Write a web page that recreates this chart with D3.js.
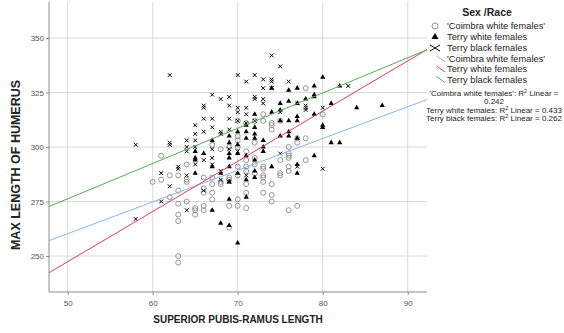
<!DOCTYPE html>
<html>
<head>
<meta charset="utf-8">
<script src="https://cdn.jsdelivr.net/npm/d3@7"></script>
<style>
  html, body { margin: 0; padding: 0; background: #fff; }
  svg { display: block; font-family: "Liberation Sans", Arial, sans-serif; }
</style>
</head>
<body>
<svg id="chart" width="564" height="333"></svg>
<script>
// Superior pubis-ramus length (x) vs. max length of humerus (y), by sex/race group
const seriesNames = ["'Coimbra white females'", "Terry white females", "Terry black females"];

const coimbraWhite = [
  [60,284],
  [61,296],[61,285],
  [62,287],[62,277],
  [63,287],[63,280],[63,274],[63,269],[63,266],[63,250],[63,247],
  [64,292],[64,285],[64,284],[64,275],
  [65,272],[65,271],[65,269],
  [66,286],[66,281],[66,279],[66,273],[66,271],
  [67,301],[67,286],[67,283],[67,279],[67,276],
  [68,299],[68,284],[68,283],
  [69,300],[69,286],[69,285],[69,273],[69,263],
  [70,312],[70,305],[70,303],[70,300],[70,291],[70,287],[70,276],[70,273],
  [71,311],[71,298],[71,294],[71,291],[71,289],[71,283],[71,279],[71,272],
  [72,312],[72,302],[72,295],[72,292],[72,288],
  [73,315],[73,312],[73,291],[73,290],[73,287],[73,286],[73,284],[73,279],
  [74,311],[74,310],[74,308],[74,283],[74,278],[74,275],
  [75,312],[75,294],[75,288],[75,287],
  [76,300],[76,297],[76,296],[76,295],[76,291],[76,289],[76,271],
  [77,304],[77,302],[77,273],
  [78,327],[78,304],[78,294],
  [80,315]
];

const terryWhite = [
  [65,298],[65,295],[65,294],[65,288],
  [66,297],
  [67,303],[67,291],[67,271],
  [68,288],[68,265],
  [69,305],[69,302],[69,297],[69,295],[69,291],[69,284],[69,276],[69,264],
  [70,307],[70,301],[70,297],[70,288],[70,256],
  [71,310],[71,307],[71,304],[71,296],[71,285],[71,277],
  [72,315],[72,309],[72,306],[72,304],[72,294],[72,289],[72,286],
  [73,303],[73,300],[73,298],
  [74,327],[74,316],[74,291],
  [75,320],[75,317],[75,312],[75,305],
  [76,326],[76,321],[76,312],[76,307],[76,305],
  [77,327],[77,320],[77,314],[77,312],[77,304],[77,292],[77,288],
  [78,322],
  [79,328],[79,324],[79,323],[79,315],[79,296],
  [80,332],[80,310],[80,309],
  [81,320],[81,302],
  [82,328],[82,302],
  [84,318],
  [87,319]
];

const terryBlack = [
  [58,301],[58,267],
  [61,288],[61,275],
  [62,333],[62,302],[62,301],[62,282],
  [63,291],[63,290],
  [64,303],[64,300],[64,298],[64,287],[64,271],
  [65,310],[65,306],[65,303],[65,300],[65,292],
  [66,319],[66,318],[66,313],[66,307],[66,294],[66,280],
  [67,324],[67,313],[67,309],[67,299],[67,295],[67,292],
  [68,322],[68,307],[68,306],[68,289],[68,285],
  [69,323],[69,319],[69,313],[69,308],[69,299],[69,284],
  [70,333],[70,318],[70,316],[70,312],[70,298],
  [71,330],[71,318],[71,315],[71,311],[71,287],
  [72,333],[72,323],[72,322],[72,312],
  [73,331],[73,327],[73,322],[73,320],
  [74,342],[74,331],[74,330],[74,327],
  [75,337],[75,316],[75,297],
  [76,330],
  [77,320],[77,291],
  [78,319],[78,318],[78,317],
  [80,318],[80,290],
  [83,328]
];

// Linear fit for each group: y = intercept + slope * x
const fitIntercept = [187.5, 132.3, 195.4];
const fitSlope = [1.455, 2.302, 1.617];
const rSquared = ["0.242", "0.433", "0.262"];

const xTicks = [50, 60, 70, 80, 90];
const yTicks = [250, 275, 300, 325, 350];

const fitColors = ["#8ab6ee", "#e23a62", "#5aaa5a"];

const svg = d3.select("#chart");

const plot = { left: 49, right: 427, top: 2, bottom: 292 };
const x = d3.scaleLinear().domain([47.8, 92.27]).range([plot.left, plot.right]);
const y = d3.scaleLinear().domain([233.5, 366.5]).range([plot.bottom, plot.top]);

// grid lines
const grid = svg.append("g");
grid.selectAll("line.gx").data(xTicks).join("line")
  .attr("x1", d => x(d)).attr("x2", d => x(d))
  .attr("y1", plot.top).attr("y2", plot.bottom)
  .attr("stroke", "#d9d9d9").attr("stroke-width", 1);
grid.selectAll("line.gy").data(yTicks).join("line")
  .attr("x1", plot.left).attr("x2", plot.right)
  .attr("y1", d => y(d)).attr("y2", d => y(d))
  .attr("stroke", "#d9d9d9").attr("stroke-width", 1);

// axes
const xAxis = d3.axisBottom(x).tickValues(xTicks).tickSize(3).tickPadding(5).tickSizeOuter(0);
const yAxis = d3.axisLeft(y).tickValues(yTicks).tickSize(3).tickPadding(2).tickSizeOuter(0);

const gx = svg.append("g").attr("transform", `translate(0,${plot.bottom})`).call(xAxis);
const gy = svg.append("g").attr("transform", `translate(${plot.left},0)`).call(yAxis);
[gx, gy].forEach(g => {
  g.select(".domain").attr("stroke", "#8c8c8c");
  g.selectAll(".tick line").attr("stroke", "#8c8c8c");
  g.selectAll(".tick text").attr("fill", "#555").attr("font-size", 8)
    .attr("font-family", "'Liberation Sans', Arial, sans-serif");
});
gx.select(".domain").attr("d", `M${plot.left},0H${plot.right}`);
gy.select(".domain").attr("d", `M0,${plot.top}V${plot.bottom}`);

// axis titles
svg.append("text")
  .attr("x", (plot.left + plot.right) / 2).attr("y", 323)
  .attr("text-anchor", "middle").attr("font-size", 10).attr("font-weight", "bold")
  .attr("fill", "#222").text("SUPERIOR PUBIS-RAMUS LENGTH");
svg.append("text")
  .attr("transform", "translate(20,165) rotate(-90)")
  .attr("text-anchor", "middle").attr("font-size", 12.5).attr("font-weight", "bold")
  .attr("fill", "#222").text("MAX LENGTH OF HUMERUS");

// marker helpers
function drawCircle(g, cx, cy, r) {
  g.append("circle").attr("cx", cx).attr("cy", cy).attr("r", r)
    .attr("fill", "none").attr("stroke", "#8a8a8a").attr("stroke-width", 0.9);
}
const triSmall = d3.symbol().type(d3.symbolTriangle).size(12);
const triLegend = d3.symbol().type(d3.symbolTriangle).size(22);
function drawTriangle(g, cx, cy, sym) {
  g.append("path").attr("d", sym()).attr("transform", `translate(${cx},${cy})`)
    .attr("fill", "#000");
}
function drawCross(g, cx, cy, hw, hh) {
  g.append("path")
    .attr("d", `M${cx - hw},${cy - hh}L${cx + hw},${cy + hh}M${cx - hw},${cy + hh}L${cx + hw},${cy - hh}`)
    .attr("stroke", "#000").attr("stroke-width", 1).attr("fill", "none");
}

// points
const pts = svg.append("g");
coimbraWhite.forEach(([a, b]) => drawCircle(pts, x(a), y(b), 2.5));
terryWhite.forEach(([a, b]) => drawTriangle(pts, x(a), y(b), triSmall));
terryBlack.forEach(([a, b]) => drawCross(pts, x(a), y(b), 1.9, 1.9));

// fit lines
const fits = svg.append("g");
const xDom = x.domain();
fitIntercept.forEach((b0, i) => {
  const line = d3.line().x(d => x(d)).y(d => y(b0 + fitSlope[i] * d));
  fits.append("path").datum(xDom).attr("d", line)
    .attr("fill", "none").attr("stroke", fitColors[i]).attr("stroke-width", 1);
});

// legend
const lg = svg.append("g");
lg.append("text").attr("x", 487).attr("y", 16).attr("text-anchor", "middle")
  .attr("font-size", 10.5).attr("font-weight", "bold").attr("fill", "#222").text("Sex /Race");

const rowY = [26, 37, 48, 58.7, 69, 79.5];
const textX = 447;
const symX = 435;
drawCircle(lg, symX, rowY[0], 3);
drawTriangle(lg, symX, rowY[1], triLegend);
drawCross(lg, symX, rowY[2], 5, 3);
[0, 1, 2].forEach(i => {
  const yy = rowY[3 + i];
  lg.append("line").attr("x1", 436.5).attr("y1", yy - 3).attr("x2", 445).attr("y2", yy + 3)
    .attr("stroke", fitColors[i]).attr("stroke-width", 1);
});
seriesNames.concat(seriesNames).forEach((name, i) => {
  lg.append("text").attr("x", textX).attr("y", rowY[i] + 3.3)
    .attr("font-size", 9.3).attr("fill", "#222").text(name);
});

// R² annotations
function r2Text(yy, parts) {
  const t = lg.append("text").attr("x", 494).attr("y", yy).attr("text-anchor", "middle")
    .attr("font-size", 8).attr("fill", "#222");
  parts.forEach(p => {
    const s = t.append("tspan").text(p.t);
    if (p.sup) s.attr("font-size", 5.5).attr("baseline-shift", "super");
  });
}
r2Text(95.5, [{t: seriesNames[0] + ": R"}, {t: "2", sup: true}, {t: " Linear ="}]);
r2Text(103.5, [{t: rSquared[0]}]);
r2Text(112.5, [{t: seriesNames[1] + ": R"}, {t: "2", sup: true}, {t: " Linear = " + rSquared[1]}]);
r2Text(120.5, [{t: seriesNames[2] + ": R"}, {t: "2", sup: true}, {t: " Linear = " + rSquared[2]}]);
</script>
</body>
</html>
